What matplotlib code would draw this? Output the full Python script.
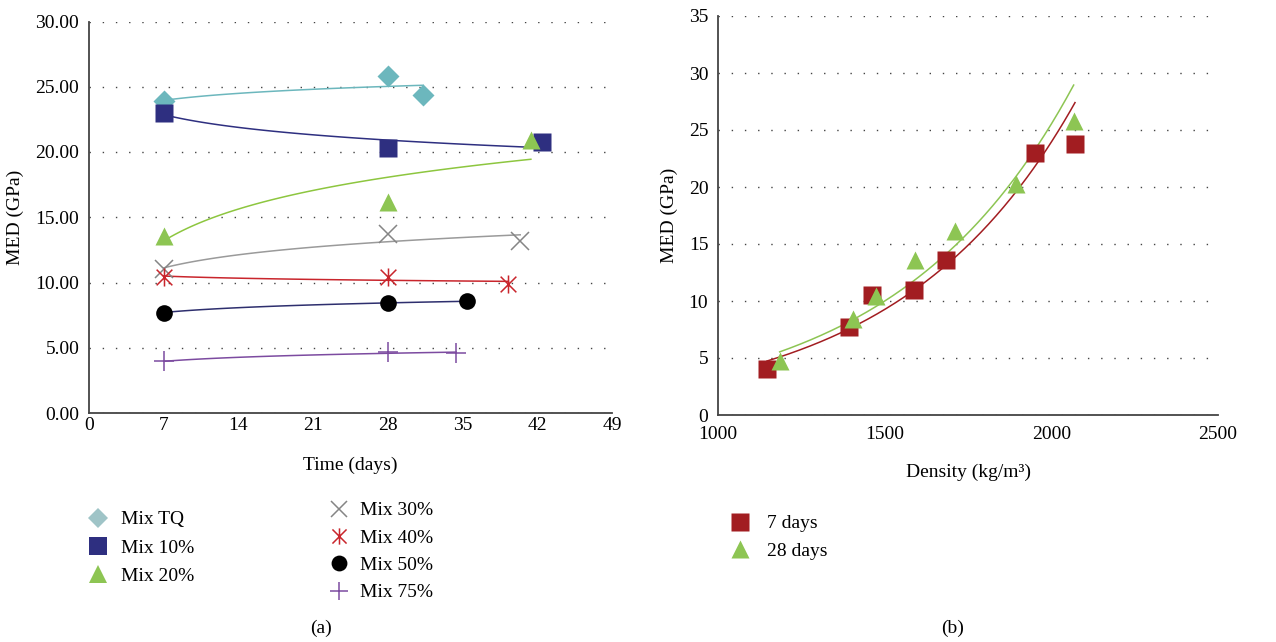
import numpy as np
import matplotlib
matplotlib.use("Agg")
import matplotlib.pyplot as plt
from matplotlib.lines import Line2D
from matplotlib.path import Path

plt.rcParams['font.family'] = ['Liberation Serif', 'DejaVu Serif']
plt.rcParams['font.size'] = 14

# ---- panel (a): MED vs time
tq_days = [7, 28, 31.3]
tq_med = [23.9, 25.8, 24.4]
m10_days = [7, 28, 42.4]
m10_med = [23.0, 20.3, 20.8]
m20_days = [7, 28, 41.4]
m20_med = [13.6, 16.2, 20.9]
m30_days = [7, 28, 40.4]
m30_med = [11.0, 13.7, 13.2]
m40_days = [7, 28, 39.3]
m40_med = [10.45, 10.4, 9.9]
m50_days = [7, 28, 35.4]
m50_med = [7.7, 8.45, 8.55]
m75_days = [7, 28, 34.4]
m75_med = [3.95, 4.65, 4.6]

# ---- panel (b): MED vs density
d7_density = [1147, 1393, 1462, 1587, 1685, 1951, 2071]
d7_med = [4.0, 7.7, 10.5, 11.0, 13.6, 23.0, 23.8]
d28_density = [1185, 1404, 1473, 1592, 1712, 1895, 2067]
d28_med = [4.7, 8.4, 10.4, 13.6, 16.1, 20.3, 25.8]

# asterisk marker: X with a vertical bar
ast = Path([(-1, -1), (1, 1), (-1, 1), (1, -1), (0, -1.15), (0, 1.15)],
           [Path.MOVETO, Path.LINETO, Path.MOVETO, Path.LINETO, Path.MOVETO, Path.LINETO])

series_a = [
    ("Mix TQ", tq_days, tq_med, 'D', 11, '#6cb7bd', '#6cb7bd', '#9fc4c7'),
    ("Mix 10%", m10_days, m10_med, 's', 13, '#2e2f80', '#2e2f80', '#2e2f80'),
    ("Mix 20%", m20_days, m20_med, '^', 13, '#8dc553', '#8dc63f', '#8dc553'),
    ("Mix 30%", m30_days, m30_med, 'x', 13, '#858585', '#9a9a9a', '#858585'),
    ("Mix 40%", m40_days, m40_med, ast, 13, '#c9252c', '#c9252c', '#c9252c'),
    ("Mix 50%", m50_days, m50_med, 'o', 12, 'black', '#2e2f6e', 'black'),
    ("Mix 75%", m75_days, m75_med, '+', 14, '#7c4ba0', '#7c4ba0', '#7c4ba0'),
]

fig = plt.figure(figsize=(12.76, 6.42), dpi=100)

def style_axes(ax):
    for s in ['top', 'right']:
        ax.spines[s].set_visible(False)
    for s in ['left', 'bottom']:
        ax.spines[s].set_color('#444444')
        ax.spines[s].set_linewidth(1.3)
    ax.tick_params(length=0)
    ax.tick_params(axis='y', pad=7)
    ax.tick_params(axis='x', pad=3)
    ax.yaxis.grid(True, color='#444444', linestyle=(0, (1, 8.5)), linewidth=1)
    ax.set_axisbelow(True)

# panel (a)
ax1 = fig.add_axes([89/1276, 1-413/642, (612-89)/1276, (413-21.5)/642])
style_axes(ax1)
legend_a = []
for name, x, y, mk, ms, mc, lc, legc in series_a:
    x = np.array(x); y = np.array(y)
    k, b = np.polyfit(np.log(x), y, 1)
    xs = np.linspace(x.min(), x.max(), 100)
    ax1.plot(xs, k*np.log(xs) + b, color=lc, lw=1.1, zorder=2)
    filled = mk in ('D', 's', '^', 'o')
    if filled:
        ax1.plot(x, y, linestyle='none', marker=mk, ms=ms, color=mc, mec='none', zorder=3)
    else:
        ax1.plot(x, y, linestyle='none', marker=mk, ms=ms, color=mc, mew=1.1, zorder=3)
    legend_a.append(Line2D([], [], linestyle='none', marker=mk, ms=ms*0.95 if filled else ms*0.9,
                           color=legc, mec='none' if filled else legc, mew=1.1, label=name))
ax1.set_xlim(0, 49)
ax1.set_ylim(0, 30)
ax1.set_xticks(np.arange(0, 50, 7))
ax1.set_yticks(np.arange(0, 31, 5))
ax1.set_yticklabels(["%.2f" % v for v in np.arange(0, 31, 5)])
ax1.set_xlabel("Time (days)", labelpad=16)
ax1.set_ylabel("MED (GPa)", labelpad=8)

leg1 = fig.legend(handles=legend_a[:3], loc='upper left', bbox_to_anchor=(77/1276, 1-501/642),
                  frameon=False, handlelength=1.2, handletextpad=0.55, labelspacing=0.55,
                  borderpad=0, fontsize=14)
leg2 = fig.legend(handles=legend_a[3:], loc='upper left', bbox_to_anchor=(318/1276, 1-492/642),
                  frameon=False, handlelength=1.2, handletextpad=0.45, labelspacing=0.5,
                  borderpad=0, fontsize=14)

# panel (b)
ax2 = fig.add_axes([718/1276, 1-415/642, (1218-718)/1276, (415-16)/642])
style_axes(ax2)
ax2.tick_params(axis='x', pad=8)
for x, y, mk, ms, c, name in [(d7_density, d7_med, 's', 13, '#a21d21', "7 days"),
                              (d28_density, d28_med, '^', 13, '#8dc553', "28 days")]:
    x = np.array(x); y = np.array(y)
    k, b = np.polyfit(x, np.log(y), 1)
    xs = np.linspace(x.min(), x.max(), 200)
    ax2.plot(xs, np.exp(b + k*xs), color=c, lw=1.1, zorder=2)
    ax2.plot(x, y, linestyle='none', marker=mk, ms=ms, color=c, mec='none', zorder=3, label=name)
ax2.set_xlim(1000, 2500)
ax2.set_ylim(0, 35)
ax2.set_xticks([1000, 1500, 2000, 2500])
ax2.set_yticks(np.arange(0, 36, 5))
ax2.set_xlabel("Density (kg/m³)", labelpad=15)
ax2.set_ylabel("MED (GPa)", labelpad=8)
ax2.legend(loc='upper left', bbox_to_anchor=(719/1276, 1-505/642), bbox_transform=fig.transFigure,
           frameon=False, handlelength=1.2, handletextpad=0.75, labelspacing=0.5,
           borderpad=0, fontsize=14)

fig.text(321/1276, 1-628/642, "(a)", ha='center', va='center', fontsize=14)
fig.text(953/1276, 1-628/642, "(b)", ha='center', va='center', fontsize=14)

fig.savefig("out.png", dpi=100)
